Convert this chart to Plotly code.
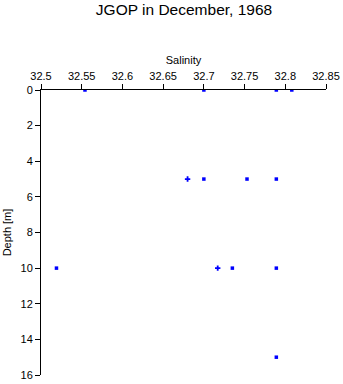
import plotly.graph_objects as go

# Data
salinity = [32.554, 32.70, 32.789, 32.808,
            32.68, 32.70, 32.753, 32.789,
            32.519, 32.717, 32.735, 32.789,
            32.789]
depth = [0, 0, 0, 0,
         5, 5, 5, 5,
         10, 10, 10, 10,
         15]
symbols = ["square", "square", "square", "square",
           "cross", "square", "square", "square",
           "square", "cross", "square", "square",
           "square"]
sizes = [3.5, 3.5, 3.5, 3.5, 4.5, 3.5, 3.5, 3.5, 3.5, 4.5, 3.5, 3.5, 3.5]

x_ticks = [32.5, 32.55, 32.6, 32.65, 32.7, 32.75, 32.8, 32.85]
x_ticktext = ["32.5", "32.55", "32.6", "32.65", "32.7", "32.75", "32.8", "32.85"]
y_ticks = [0, 2, 4, 6, 8, 10, 12, 14, 16]

FONT = "Liberation Sans, Arial, Helvetica, sans-serif"

fig = go.Figure()
fig.add_trace(go.Scatter(
    x=salinity, y=depth, mode="markers",
    marker=dict(symbol=symbols, size=sizes, color="#0000ff", opacity=1,
                line=dict(width=0)),
    showlegend=False, hoverinfo="x+y",
))

fig.update_layout(
    width=343, height=384,
    margin=dict(l=41, r=17, t=90, b=9, pad=0, autoexpand=False),
    paper_bgcolor="white", plot_bgcolor="white",
    font=dict(family=FONT, size=11, color="black"),
    title=dict(text="JGOP in December, 1968", x=184 / 343, xanchor="center",
               y=1 - 10 / 384, yanchor="middle", yref="container",
               font=dict(family=FONT, size=15.5, color="black")),
    xaxis=dict(
        side="top", range=[32.5, 32.85], tickvals=x_ticks, ticktext=x_ticktext,
        ticks="outside", ticklen=5, tickwidth=1, tickcolor="black",
        showline=True, linecolor="black", linewidth=1,
        showgrid=False, zeroline=False, mirror=False, automargin=False,
        tickfont=dict(family=FONT, size=11, color="black"),
        title=dict(text="Salinity", standoff=2,
                   font=dict(family=FONT, size=11, color="black")),
    ),
    yaxis=dict(
        range=[16, 0], tickvals=y_ticks,
        ticks="outside", ticklen=5, tickwidth=1, tickcolor="black",
        showline=True, linecolor="black", linewidth=1,
        showgrid=False, zeroline=False, mirror=False, automargin=False,
        tickfont=dict(family=FONT, size=11, color="black"),
        title=dict(text="Depth [m]", standoff=6,
                   font=dict(family=FONT, size=11, color="black")),
    ),
)

fig.write_html("out.html")
